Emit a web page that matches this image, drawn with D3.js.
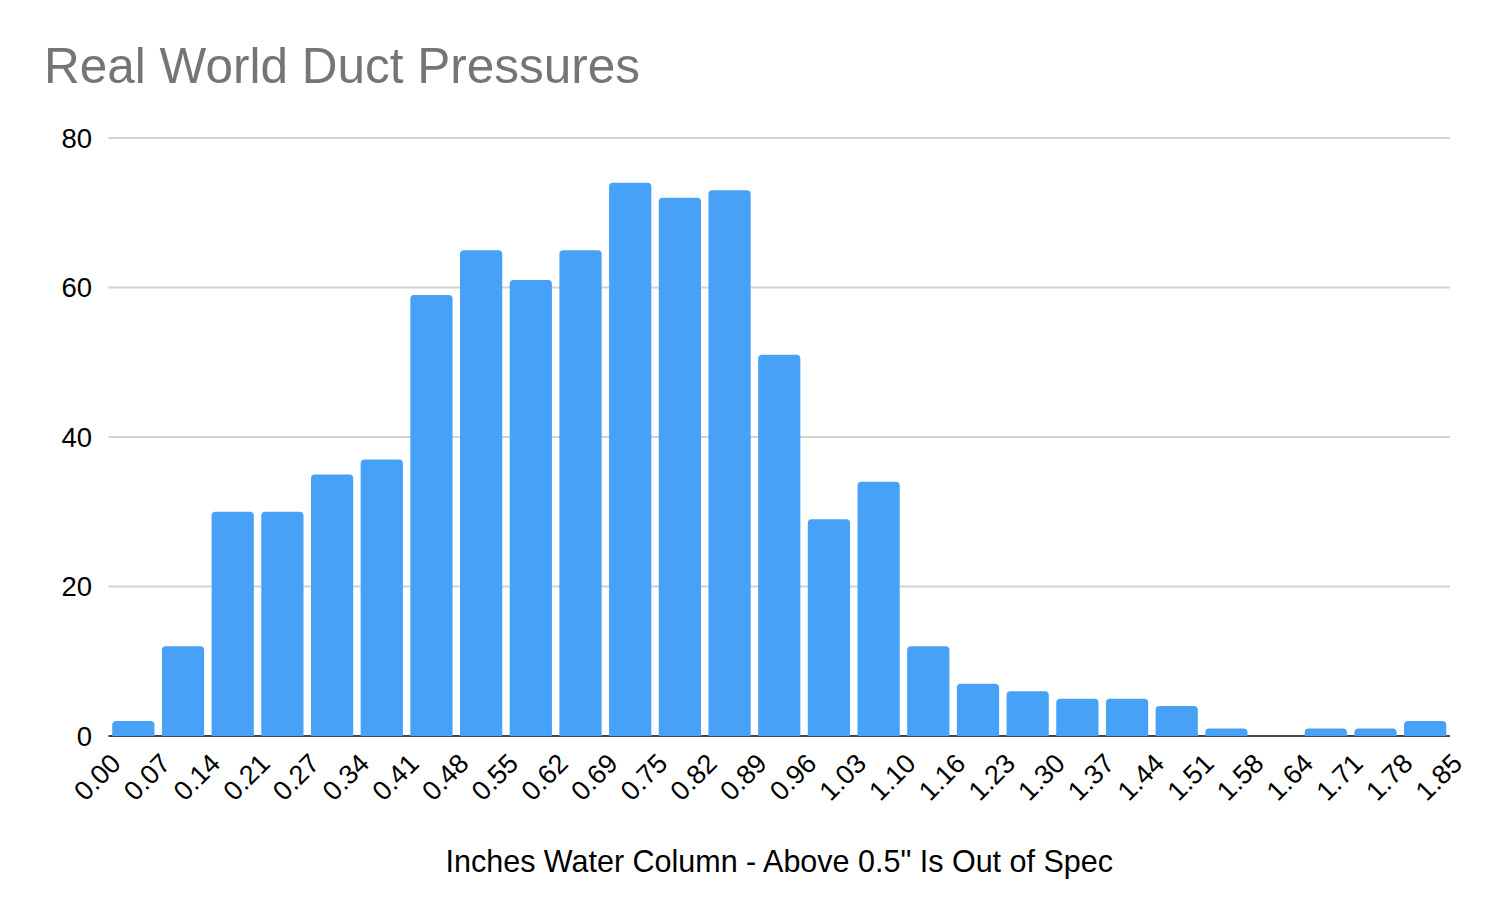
<!DOCTYPE html>
<html>
<head>
<meta charset="utf-8">
<script src="https://cdn.jsdelivr.net/npm/d3@7"></script>
<style>
  html, body { margin: 0; padding: 0; background: #fff; }
  text { font-family: "Liberation Sans", Arial, Helvetica, sans-serif; }
</style>
</head>
<body>
<svg id="chart" width="1490" height="922"></svg>
<script>
const title = "Real World Duct Pressures";
const xAxisTitle = "Inches Water Column - Above 0.5\" Is Out of Spec";
const binEdgeLabels = ["0.00","0.07","0.14","0.21","0.27","0.34","0.41","0.48","0.55","0.62","0.69","0.75","0.82","0.89","0.96","1.03","1.10","1.16","1.23","1.30","1.37","1.44","1.51","1.58","1.64","1.71","1.78","1.85"];
const counts = [2, 12, 30, 30, 35, 37, 59, 65, 61, 65, 74, 72, 73, 51, 29, 34, 12, 7, 6, 5, 5, 4, 1, 0, 1, 1, 2];
const yTicks = [0, 20, 40, 60, 80];

(function () {
const svg = d3.select("#chart");
const plotLeft = 108.5, plotRight = 1450, plotTop = 138, plotBottom = 736;

const x = d3.scaleBand().domain(d3.range(counts.length)).range([plotLeft, plotRight])
  .paddingInner(0.15).paddingOuter(0.075);
const xEdge = d3.scalePoint().domain(binEdgeLabels).range([plotLeft, plotRight]);
const y = d3.scaleLinear().domain([0, 80]).range([plotBottom, plotTop]);

// title
svg.append("text").attr("x", 44).attr("y", 83)
  .attr("font-size", 49.5).attr("fill", "#757575").text(title);

// gridlines
svg.append("g").selectAll("line").data(yTicks.filter(d => d > 0)).join("line")
  .attr("x1", plotLeft).attr("x2", plotRight)
  .attr("y1", d => y(d)).attr("y2", d => y(d))
  .attr("stroke", "#d3d3d3").attr("stroke-width", 2);

// y labels
svg.append("g").selectAll("text").data(yTicks).join("text")
  .attr("x", 92).attr("y", d => y(d)).attr("dy", "0.36em")
  .attr("text-anchor", "end").attr("font-size", 27.5).attr("fill", "#000")
  .text(d => d);

// baseline
svg.append("line").attr("x1", plotLeft).attr("x2", plotRight)
  .attr("y1", plotBottom).attr("y2", plotBottom)
  .attr("stroke", "#444").attr("stroke-width", 2);

// bars with rounded top corners
const r = 4;
svg.append("g").selectAll("path").data(counts.map((v, i) => ({v, i})).filter(d => d.v > 0)).join("path")
  .attr("fill", "#46a1f7")
  .attr("d", d => {
    const x0 = x(d.i), w = x.bandwidth(), y0 = y(d.v), y1 = y(0);
    const rr = Math.min(r, (y1 - y0));
    return `M${x0},${y1}V${y0 + rr}Q${x0},${y0} ${x0 + rr},${y0}H${x0 + w - rr}Q${x0 + w},${y0} ${x0 + w},${y0 + rr}V${y1}Z`;
  });

// x labels
svg.append("g").selectAll("text").data(binEdgeLabels).join("text")
  .attr("transform", d => `translate(${xEdge(d) + 14},${765}) rotate(-45)`)
  .attr("text-anchor", "end").attr("font-size", 27).attr("fill", "#000")
  .text(d => d);

// x axis title
svg.append("text").attr("x", (plotLeft + plotRight) / 2).attr("y", 872)
  .attr("text-anchor", "middle").attr("font-size", 30.5).attr("fill", "#000")
  .text(xAxisTitle);
})();
</script>
</body>
</html>
